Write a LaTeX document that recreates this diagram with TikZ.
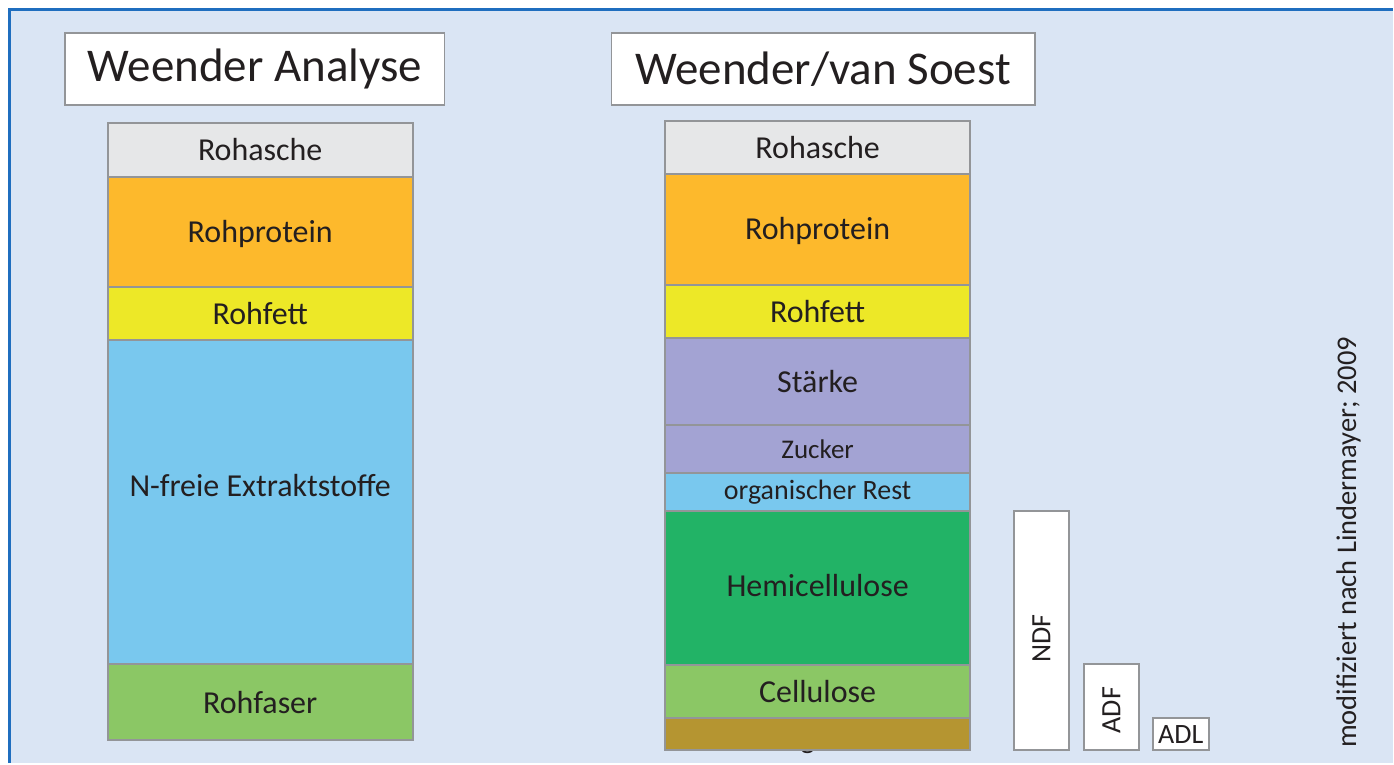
\documentclass[tikz,border=0pt]{standalone}
\usepackage{fontspec}
\setmainfont{Carlito}
\definecolor{panelbg}{HTML}{DAE5F4}
\definecolor{frameblue}{HTML}{1F6EBF}
\definecolor{edgegray}{HTML}{939598}
\definecolor{txt}{HTML}{231F20}
\definecolor{ash}{HTML}{E6E7E8}
\definecolor{protein}{HTML}{FDB92C}
\definecolor{fat}{HTML}{EDE827}
\definecolor{nfe}{HTML}{79C8EE}
\definecolor{fibre}{HTML}{8BC765}
\definecolor{starch}{HTML}{A3A3D3}
\definecolor{hemi}{HTML}{22B366}
\definecolor{lignin}{HTML}{B59531}
\tikzset{
  fs/.style={font=\fontsize{#1}{#1}\selectfont},
  layer/.style={draw=edgegray, line width=2pt, inner sep=0pt, outer sep=0pt,
    anchor=north west, minimum width=305, text=txt, fs=32},
  layertext/.style={text=txt, inner sep=0pt, fs=32},
  titlebox/.style={draw=edgegray, line width=1.5pt, fill=white, inner sep=0pt,
    outer sep=0pt, anchor=north west, text=txt, fs=47},
  fracbox/.style={draw=edgegray, line width=2pt, fill=white, inner sep=0pt,
    outer sep=0pt, anchor=north west, minimum width=55},
  fraclabel/.style={text=txt, inner sep=0pt, fs=28},
}
\begin{document}
\begin{tikzpicture}[x=1pt,y=-1pt]
  % panel and frame
  \fill[white] (0,0) rectangle (1394,764);
  \fill[panelbg] (10,10) rectangle (1394,764);
  \draw[frameblue, line width=3pt] (10,764) -- (10,10) -- (1394,10);
  \useasboundingbox (0,0) rectangle (1394,764);

  % titles
  \node[titlebox, minimum width=380, minimum height=72] (t1) at (65,33) {\raisebox{-2pt}{Weender Analyse}};
  \node[titlebox, minimum width=424, minimum height=72] (t2) at (612,33) {\raisebox{-2pt}{Weender/van Soest}};

  % Weender analysis column
  \node[layer, fill=ash, minimum height=54] (a1) at (108,123) {Rohasche};
  \node[layer, fill=protein, minimum height=110] (a2) at (a1.south west) {};
  \node[layertext] (a2l) at ([yshift=-2pt]a2.center) {Rohprotein};
  \node[layer, fill=fat, minimum height=53] (a3) at (a2.south west) {Rohfett};
  \node[layer, fill=nfe, minimum height=325] (a4) at (a3.south west) {};
  \node[layertext] (a4l) at ([yshift=16pt]a4.center) {N-freie Extraktstoffe};
  \node[layer, fill=fibre, minimum height=76] (a5) at (a4.south west) {Rohfaser};

  % label partly hidden behind the lignin layer
  \node[text=txt, fs=30, anchor=base, inner sep=0pt] (lg) at (818,749) {Lignin};

  % Weender / van Soest column
  \node[layer, fill=ash, minimum height=53] (b1) at (666,121) {Rohasche};
  \node[layer, fill=protein, minimum height=111] (b2) at (b1.south west) {};
  \node[layertext] (b2l) at ([yshift=-2pt]b2.center) {Rohprotein};
  \node[layer, fill=fat, minimum height=53] (b3) at (b2.south west) {Rohfett};
  \node[layer, fill=starch, minimum height=87] (b4) at (b3.south west) {Stärke};
  \node[layer, fill=starch, minimum height=49, fs=27] (b5) at (b4.south west) {Zucker};
  \node[layer, fill=nfe, minimum height=38, fs=28] (b6) at (b5.south west) {organischer Rest};
  \node[layer, fill=hemi, minimum height=154] (b7) at (b6.south west) {};
  \node[layertext] (b7l) at ([yshift=3pt]b7.center) {Hemicellulose};
  \node[layer, fill=fibre, minimum height=53] (b8) at (b7.south west) {Cellulose};
  \node[layer, fill=lignin, minimum height=32] (b9) at (b8.south west) {};

  % fibre fractions
  \node[fracbox, minimum height=239] (ndf) at (1015,512) {};
  \node[fraclabel, rotate=90] (ndfl) at ([yshift=-8pt]ndf.center) {NDF};
  \node[fracbox, minimum height=86] (adf) at (1085,665) {};
  \node[fraclabel, rotate=90] (adfl) at ([yshift=-3pt]adf.center) {ADF};
  \node[fracbox, minimum width=56, minimum height=32, fraclabel] (adl) at (1154,719) {ADL};

  % source note
  \node[text=txt, fs=28.5, rotate=90, inner sep=0pt] (src) at (1350,543) {modifiziert nach Lindermayer; 2009};
\end{tikzpicture}
\end{document}
